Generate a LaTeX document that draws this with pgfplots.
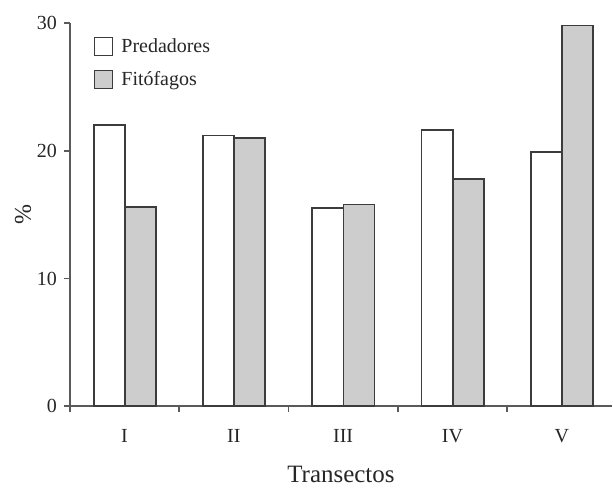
\documentclass[border=0pt]{standalone}
\usepackage{fontspec}
\setmainfont{Liberation Serif}
\usepackage{pgfplots}
\pgfplotsset{compat=1.18}
\definecolor{barfill}{RGB}{205,205,205}
\definecolor{edge}{RGB}{60,60,60}
\definecolor{axisgray}{RGB}{90,90,90}
\begin{document}
\begin{tikzpicture}
\begin{axis}[
  ybar,
  scale only axis, width=271.5pt, height=192pt,
  xmin=-0.5, xmax=4.46, ymin=0, ymax=30,
  axis x line=bottom, axis y line=left,
  axis line style={-, axisgray, line width=1pt},
  tick align=outside, major tick length=3pt,
  tick style={axisgray, line width=0.9pt},
  ytick={0,10,20,30},
  xtick={-0.5,0.5,1.5,2.5,3.5}, xticklabels={},
  extra x ticks={0,1,2,3,4},
  extra x tick labels={I,II,III,IV,V},
  extra x tick style={major tick length=0pt, xticklabel style={yshift=-8pt}},
  ticklabel style={font=\fontsize{10}{12}\selectfont, text=black!85},
  /pgf/number format/assume math mode=true,
  xlabel={Transectos}, ylabel={\%},
  xlabel style={font=\fontsize{12.5}{15}\selectfont, text=black!85,
    at={(axis description cs:0.5,-0.198)}, anchor=base},
  ylabel style={font=\fontsize{12}{14}\selectfont, text=black!85,
    at={(axis description cs:-0.0866,0.5)}, anchor=center},
  legend image code/.code={\draw[#1, line width=0.6pt] (0pt,-4.5pt) rectangle (9pt,4.5pt);},
  legend style={draw=none, fill=none, at={(axis description cs:0,1)}, anchor=north west,
    xshift=9pt, yshift=-3.5pt, font=\fontsize{10}{12}\selectfont, text=black!85, row sep=4pt,
    /tikz/every odd column/.style={column sep=2pt}},
  legend cell align=left,
  after end axis/.code={\path (axis description cs:0,1) ++(-35pt,11.5pt);},
]
\addplot[fill=white, draw=edge, line width=0.9pt, bar width=0.285, bar shift=-0.14]
  coordinates {(0,22.0) (1,21.2) (2,15.5) (3,21.6) (4,19.9)};
\addplot[fill=barfill, draw=edge, line width=0.9pt, bar width=0.285, bar shift=0.145]
  coordinates {(0,15.6) (1,21.0) (2,15.8) (3,17.8) (4,29.8)};
\legend{Predadores, Fitófagos}
\end{axis}
\end{tikzpicture}
\end{document}
